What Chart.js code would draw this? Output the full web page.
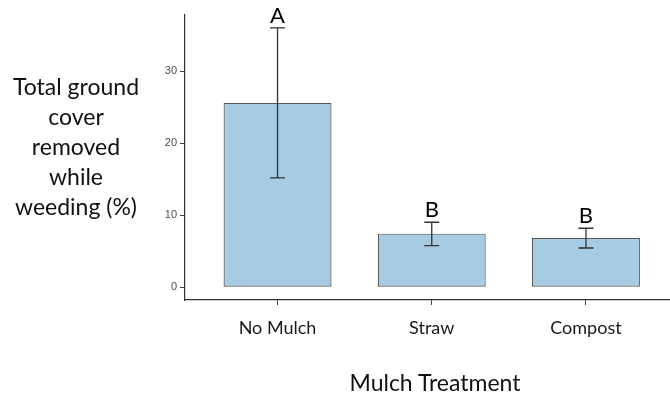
<!DOCTYPE html>
<html>
<head>
<meta charset="utf-8">
<script src="https://cdn.jsdelivr.net/npm/chart.js@4"></script>
<style>
  html, body { margin: 0; padding: 0; background: #fff; }
  #wrap { position: relative; width: 670px; height: 398px; }
  #ytitle { position: absolute; left: 0; top: 71px; width: 152px; text-align: center;
    font-family: Lato, "Open Sans", sans-serif; font-size: 23px; line-height: 30px; color: #111; }
  #xtitle { position: absolute; left: 285px; top: 367px; width: 300px; text-align: center;
    font-family: Lato, "Open Sans", sans-serif; font-size: 23px; line-height: 30px; color: #111; }
</style>
</head>
<body>
<div id="wrap">
  <canvas id="c" width="670" height="398"></canvas>
  <div id="ytitle">Total ground<br>cover<br>removed<br>while<br>weeding (%)</div>
  <div id="xtitle"></div>
</div>
<script>
const categories = ["No Mulch", "Straw", "Compost"];
const positions = [1, 2, 3];
const means = [25.6, 7.45, 6.85];
const upper = [36.0, 9.03, 8.2];
const lower = [15.2, 5.78, 5.46];
const groupLetters = ["A", "B", "B"];
const yTickValues = [0, 10, 20, 30];
const xTitle = "Mulch Treatment";
document.getElementById('xtitle').textContent = xTitle;

const errorPlugin = {
  id: 'errbars',
  afterDatasetsDraw(chart) {
    const ctx = chart.ctx;
    const xs = chart.scales.x, ys = chart.scales.y;
    ctx.save();
    ctx.strokeStyle = '#333';
    ctx.lineWidth = 1.3;
    ctx.fillStyle = '#000';
    ctx.font = '22px Lato, "Open Sans", sans-serif';
    ctx.textAlign = 'center';
    ctx.textBaseline = 'alphabetic';
    for (let i = 0; i < positions.length; i++) {
      const x = xs.getPixelForValue(positions[i]);
      const yt = ys.getPixelForValue(upper[i]);
      const yb = ys.getPixelForValue(lower[i]);
      const hw = 7.5;
      ctx.beginPath();
      ctx.moveTo(x, yt); ctx.lineTo(x, yb);
      ctx.moveTo(x - hw, yt); ctx.lineTo(x + hw, yt);
      ctx.moveTo(x - hw, yb); ctx.lineTo(x + hw, yb);
      ctx.stroke();
      ctx.fillText(groupLetters[i], x, yt - 5);
    }
    ctx.restore();
  }
};

new Chart(document.getElementById('c'), {
  type: 'bar',
  data: {
    datasets: [{
      data: positions.map((p, i) => ({ x: p, y: means[i] })),
      backgroundColor: '#a7cbe3',
      borderColor: '#555555',
      borderWidth: 1.2,
      borderSkipped: false,
      barPercentage: 0.7,
      categoryPercentage: 1.0
    }]
  },
  options: {
    responsive: false,
    animation: false,
    events: [],
    layout: { padding: { top: 15, right: 0, left: 0, bottom: 0 } },
    plugins: { legend: { display: false }, tooltip: { enabled: false } },
    scales: {
      x: {
        type: 'linear',
        offset: false,
        min: 0.4,
        max: 3.545,
        afterBuildTicks(scale) { scale.ticks = positions.map(v => ({ value: v })); },
        afterFit(scale) { scale.height = 98; },
        ticks: {
          callback: (v) => categories[positions.indexOf(v)] ?? '',
          font: { family: 'Lato, "Open Sans", sans-serif', size: 18 },
          color: '#1a1a1a',
          padding: 12,
          maxRotation: 0,
          autoSkip: false
        },
        grid: { offset: false, drawOnChartArea: false, drawTicks: true, tickLength: 5, color: '#444', lineWidth: 1 },
        border: { display: true, color: '#333', width: 1.2 }
      },
      y: {
        min: -1.76,
        max: 37.8,
        afterBuildTicks(scale) { scale.ticks = yTickValues.map(v => ({ value: v })); },
        afterFit(scale) { scale.width = 185; },
        ticks: {
          font: { family: '"Liberation Sans", Arial, sans-serif', size: 11 },
          color: '#4d4d4d',
          padding: 3
        },
        grid: { drawOnChartArea: false, drawTicks: true, tickLength: 5, color: '#444', lineWidth: 1 },
        border: { display: true, color: '#333', width: 1.2 }
      }
    }
  },
  plugins: [errorPlugin]
});
</script>
</body>
</html>
